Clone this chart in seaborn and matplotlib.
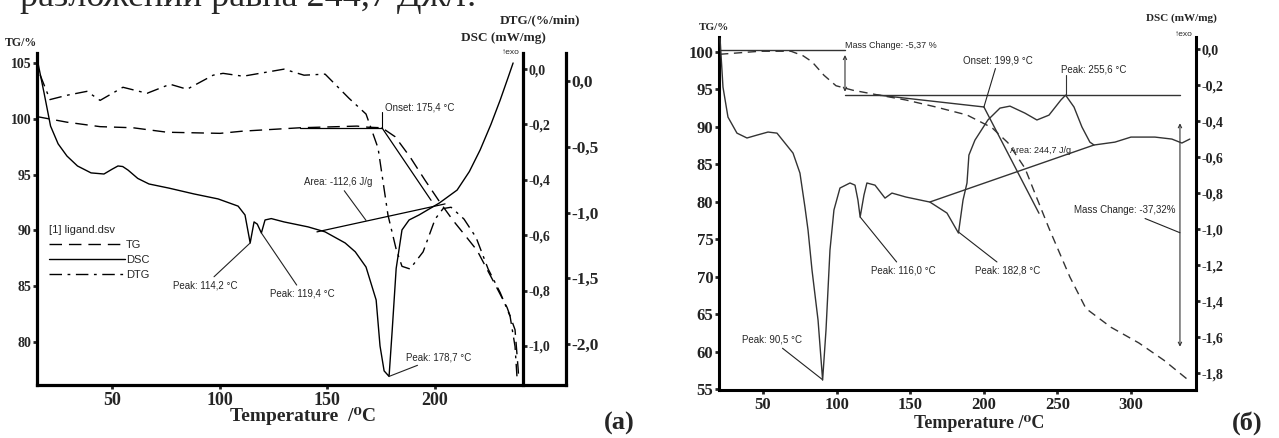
import matplotlib
matplotlib.use("Agg")
import matplotlib.pyplot as plt
import seaborn as sns
from matplotlib.ticker import FixedLocator, FuncFormatter

# ---------------- data ----------------
# (a) ligand: TG (%), DSC (mW/mg), DTG (%/min) against temperature (degC)
a_tg_x = [15.2, 29.1, 44.5, 59.8, 75.6, 100.2, 110.9, 137.4, 163.8, 168.9, 175.4,
          181.5, 188.4, 195.4, 202.4, 208.4, 213.0, 219.6, 227.0, 233.5, 237.2, 238.6, 238.9]
a_tg_y = [100.2, 99.7, 99.3, 99.2, 98.8, 98.7, 98.9, 99.2, 99.35, 99.25, 99.2,
          98.4, 96.6, 94.5, 92.5, 90.9, 89.8, 88.2, 85.5, 83.1, 81.1, 77.7, 76.8]

a_dsc_x = [15.7, 18.5, 21.5, 25.0, 29.1, 34.0, 40.3, 46.3, 50.0, 52.8, 55.0, 57.5, 62.0,
           67.2, 76.5, 88.1, 99.3, 108.6, 111.8, 114.2, 116.0, 117.5, 119.4, 121.1, 124.0,
           129.9, 141.1, 149.0, 158.3, 163.0, 168.0, 172.7, 174.5, 176.4, 178.7, 180.1,
           182.0, 184.7, 188.0, 192.6, 202.0, 210.3, 216.0, 221.0, 226.0, 230.3, 234.0, 236.3]
a_dsc_y = [0.02, -0.087, -0.206, -0.27, -0.314, -0.35, -0.375, -0.379, -0.362, -0.35, -0.352,
           -0.365, -0.395, -0.415, -0.43, -0.451, -0.469, -0.495, -0.527, -0.628, -0.552,
           -0.56, -0.592, -0.545, -0.54, -0.552, -0.57, -0.588, -0.628, -0.66, -0.715,
           -0.834, -1.0, -1.09, -1.11, -0.95, -0.72, -0.581, -0.545, -0.527, -0.484, -0.437,
           -0.37, -0.292, -0.2, -0.112, -0.03, 0.022]

a_dtg_x = [16.6, 21.2, 29.1, 38.4, 44.5, 55.1, 66.3, 77.0, 84.9, 97.0, 101.6, 110.9,
           129.9, 139.2, 149.0, 160.1, 168.0, 173.6, 178.2, 182.0, 184.7, 188.4, 194.5,
           200.1, 203.8, 207.5, 213.5, 219.1, 224.7, 230.3, 234.9, 237.2, 238.1]
a_dtg_y = [0.05, -0.14, -0.107, -0.077, -0.146, -0.046, -0.092, -0.023, -0.061, 0.046,
           0.06, 0.038, 0.092, 0.046, 0.054, -0.13, -0.25, -0.51, -1.02, -1.28, -1.41,
           -1.43, -1.30, -1.05, -0.97, -0.96, -1.05, -1.19, -1.43, -1.61, -1.79, -2.02, -2.25]

# (a) evaluation lines (TG axis and DSC axis)
a_onset_base_x = [137.4, 175.4]
a_onset_base_y = [99.2, 99.2]
a_onset_tan_x = [175.4, 198.2]
a_onset_tan_y = [99.2, 92.7]
a_area_base_x = [145.2, 204.7]
a_area_base_y = [-0.588, -0.487]
a_peaks = [114.2, 119.4, 178.7]
a_peak_dsc = [-0.628, -0.592, -1.11]

# (b) complex: TG (%), DSC (mW/mg)
b_tg_x = [20.8, 34.4, 47.9, 69.0, 77.2, 83.3, 91.4, 99.6, 111.1, 127.4, 147.1, 166.8,
          188.6, 205.6, 216.4, 228.0, 236.1, 244.3, 258.5, 269.4, 286.4, 305.4, 322.4, 338.7]
b_tg_y = [99.7, 99.9, 100.1, 100.1, 99.5, 98.7, 96.9, 95.5, 94.9, 94.3, 93.6, 92.7,
          91.6, 89.9, 87.9, 84.5, 80.5, 76.5, 70.0, 65.8, 63.3, 61.2, 58.9, 56.3]

b_dsc_x = [20.8, 22.8, 26.2, 32.3, 39.1, 45.9, 53.4, 59.5, 64.9, 70.4, 75.1, 78.5, 80.6,
           83.3, 87.4, 90.5, 92.8, 95.5, 98.2, 102.3, 109.1, 112.5, 114.5, 116.0, 118.6,
           120.6, 126.1, 132.9, 137.6, 147.1, 163.4, 175.0, 182.8, 185.9, 188.6, 189.9,
           194.0, 202.8, 211.0, 217.8, 228.0, 236.1, 244.3, 252.4, 255.6, 261.3, 266.7,
           272.1, 274.9, 289.1, 300.0, 316.3, 327.8, 334.6, 340.0]
b_dsc_y = [0.06, -0.211, -0.378, -0.467, -0.494, -0.478, -0.461, -0.467, -0.522, -0.578,
           -0.689, -0.878, -1.006, -1.228, -1.506, -1.839, -1.561, -1.117, -0.894, -0.772,
           -0.744, -0.756, -0.839, -0.933, -0.811, -0.744, -0.756, -0.828, -0.8, -0.822,
           -0.85, -0.911, -1.022, -0.839, -0.744, -0.589, -0.506, -0.394, -0.328, -0.317,
           -0.356, -0.394, -0.367, -0.283, -0.256, -0.322, -0.433, -0.517, -0.533, -0.517,
           -0.489, -0.489, -0.5, -0.522, -0.5]

# (b) evaluation lines (TG axis)
b_ms1_x = [20.8, 105.7]
b_ms1_y = [100.2, 100.2]
b_ms_base_x = [105.7, 333.3]
b_ms_base_y = [94.27, 94.27]
b_onset_base_x = [126.1, 200.1]
b_onset_base_y = [94.3, 92.67]
b_onset_tan_x = [200.1, 237.5]
b_onset_tan_y = [92.67, 78.5]
b_area_base_x = [163.4, 274.9]
b_area_base_y = [80.0, 87.6]
b_peaks = [90.5, 116.0, 182.8]
b_peak_tg = [56.3, 78.0, 76.0]

# ---------------- figure ----------------
sns.set_style("ticks")
SERIF = ['Liberation Serif', 'DejaVu Serif']
NARROW = ['Liberation Sans Narrow', 'Liberation Sans', 'DejaVu Sans']
plt.rcParams['font.family'] = SERIF

W, H = 1279, 438
fig = plt.figure(figsize=(W / 100, H / 100), dpi=100)


def ftext(px, py, s, **kw):
    return fig.text(px / W, 1 - py / H, s, **kw)


def comma(v, pos):
    if abs(v) < 1e-9:
        return '0,0'
    return f"{v:.1f}".replace('.', ',')


def style_spines(ax, visible, lw=2.3):
    for side, sp in ax.spines.items():
        sp.set_visible(side in visible)
        sp.set_linewidth(lw)
        sp.set_color('black')


def note(ax, s, xy, xytext, **kw):
    ax.annotate(s, xy=xy, xytext=xytext, fontsize=7, family=NARROW, va='center',
                arrowprops=dict(arrowstyle='-', lw=0.8, color='#222222',
                                shrinkA=0, shrinkB=0), **kw)


# ===== panel (a) =====
ax_a = fig.add_axes([37 / W, 1 - 385 / H, 486 / W, 332 / H])
ax_a_dsc = ax_a.twinx()
ax_a_dtg = ax_a.twinx()

sns.lineplot(x=a_tg_x, y=a_tg_y, ax=ax_a, color='black', lw=1.0, sort=False, estimator=None)
tg_line = ax_a.lines[-1]
tg_line.set_dashes((9, 5))
sns.lineplot(x=a_dsc_x, y=a_dsc_y, ax=ax_a_dsc, color='black', lw=1.0, sort=False, estimator=None)
dsc_line = ax_a_dsc.lines[-1]
sns.lineplot(x=a_dtg_x, y=a_dtg_y, ax=ax_a_dtg, color='black', lw=1.0, sort=False, estimator=None)
dtg_line = ax_a_dtg.lines[-1]
dtg_line.set_dashes((9, 4, 2, 4))

ax_a.set_xlim(15.2, 240.9)
ax_a.set_ylim(76.15, 105.9)
ax_a_dsc.set_ylim(-1.141, 0.058)
ax_a_dtg.set_ylim(-2.314, 0.215)

# evaluation lines
ax_a.plot(a_onset_base_x, a_onset_base_y, color='black', lw=0.9)
ax_a.plot(a_onset_tan_x, a_onset_tan_y, color='black', lw=0.9)
ax_a_dsc.plot(a_area_base_x, a_area_base_y, color='black', lw=0.9)
ax_a.plot([a_onset_base_x[1]] * 2, [a_onset_base_y[1], 100.6], color='black', lw=0.8)
ax_a.text(177, 101.05, 'Onset: 175,4 °C', fontsize=7, family=NARROW, va='center')
note(ax_a, 'Area: -112,6 J/g', xy=(168.0, 90.9), xytext=(139.2, 94.3))
note(ax_a_dsc, f'Peak: {a_peaks[0]:.1f} °C'.replace('.', ','), xy=(a_peaks[0], a_peak_dsc[0]),
     xytext=(93.3, -0.78), ha='center')
note(ax_a_dsc, f'Peak: {a_peaks[1]:.1f} °C'.replace('.', ','), xy=(a_peaks[1], a_peak_dsc[1]),
     xytext=(123.4, -0.81), ha='left')
note(ax_a_dsc, f'Peak: {a_peaks[2]:.1f} °C'.replace('.', ','), xy=(a_peaks[2], a_peak_dsc[2]),
     xytext=(186.6, -1.04), ha='left')

# spines and ticks
style_spines(ax_a, ['left', 'bottom'])
style_spines(ax_a_dsc, ['right'])
style_spines(ax_a_dtg, ['right'])
ax_a_dtg.spines['right'].set_position(('outward', 31))
ax_a.spines['bottom'].set_bounds(15.2, 260.9)

ax_a.xaxis.set_major_locator(FixedLocator([50, 100, 150, 200]))
ax_a.yaxis.set_major_locator(FixedLocator([80, 85, 90, 95, 100, 105]))
ax_a.tick_params(axis='x', length=3, width=2, pad=2, labelsize=13)
ax_a.tick_params(axis='y', length=3, width=2, pad=1, labelsize=10)
for lab in ax_a.get_xticklabels() + ax_a.get_yticklabels():
    lab.set_fontweight('bold')

ax_a_dsc.yaxis.set_major_locator(FixedLocator([0, -0.2, -0.4, -0.6, -0.8, -1.0]))
ax_a_dsc.yaxis.set_major_formatter(FuncFormatter(comma))
ax_a_dsc.tick_params(axis='y', length=3, width=2, pad=1, labelsize=10)
ax_a_dtg.yaxis.set_major_locator(FixedLocator([0, -0.5, -1.0, -1.5, -2.0]))
ax_a_dtg.yaxis.set_major_formatter(FuncFormatter(comma))
ax_a_dtg.tick_params(axis='y', length=3, width=2, pad=1, labelsize=12.5)
for a in (ax_a_dsc, ax_a_dtg):
    for lab in a.get_yticklabels():
        lab.set_fontweight('bold')

ax_a.legend(handles=[tg_line, dsc_line, dtg_line], labels=['TG', 'DSC', 'DTG'],
            title='[1] ligand.dsv', loc='upper left',
            bbox_to_anchor=(12 / 486, 160 / 332), frameon=False, alignment='left',
            handlelength=6.8, handletextpad=0.1, labelspacing=0.45, borderaxespad=0,
            borderpad=0, prop={'family': NARROW, 'size': 8},
            title_fontproperties={'family': NARROW, 'size': 8})

ftext(5, 43, 'TG/%', fontsize=8.5, fontweight='bold', va='center')
ftext(540, 20, 'DTG/(%/min)', fontsize=9.5, fontweight='bold', ha='center', va='center')
ftext(503, 38, 'DSC (mW/mg)', fontsize=9.5, fontweight='bold', ha='center', va='center')
ftext(511, 52, '↑exo', fontsize=6, family=NARROW, ha='center', va='center')
ftext(303, 416, 'Temperature  /⁰C', fontsize=14, fontweight='bold', ha='center', va='center')
ftext(604, 423, '(а)', fontsize=19, fontweight='bold', va='center')

# ===== panel (b) =====
ax_b = fig.add_axes([719 / W, 1 - 390 / H, 477 / W, 353 / H])
ax_b_dsc = ax_b.twinx()

sns.lineplot(x=b_tg_x, y=b_tg_y, ax=ax_b, color='#333333', lw=1.0, sort=False, estimator=None)
ax_b.lines[-1].set_dashes((6, 4))
sns.lineplot(x=b_dsc_x, y=b_dsc_y, ax=ax_b_dsc, color='#333333', lw=1.0, sort=False, estimator=None)

ax_b.set_xlim(20.1, 344.2)
ax_b.set_ylim(54.93, 102.0)
ax_b_dsc.set_ylim(-1.894, 0.067)

for lx, ly in [(b_ms1_x, b_ms1_y), (b_ms_base_x, b_ms_base_y), (b_onset_base_x, b_onset_base_y),
               (b_onset_tan_x, b_onset_tan_y), (b_area_base_x, b_area_base_y)]:
    ax_b.plot(lx, ly, color='#333333', lw=1.0)

ax_b.annotate('', xy=(105.7, 94.7), xytext=(105.7, 99.6),
              arrowprops=dict(arrowstyle='<->', lw=0.8, color='#333333', shrinkA=0, shrinkB=0,
                              mutation_scale=6))
ax_b.annotate('', xy=(333.3, 60.7), xytext=(333.3, 90.5),
              arrowprops=dict(arrowstyle='<->', lw=0.8, color='#333333', shrinkA=0, shrinkB=0,
                              mutation_scale=6))
ax_b.text(105.5, 100.9, 'Mass Change: -5,37 %', fontsize=6.5, family=NARROW, va='center')
note(ax_b, 'Onset: 199,9 °C', xy=(200.1, 92.67), xytext=(185.9, 98.9))
ax_b.plot([255.6, 255.6], [96.9, 94.3], color='#333333', lw=0.8)
ax_b.text(252.4, 97.6, 'Peak: 255,6 °C', fontsize=7, family=NARROW, va='center')
ax_b.text(217.8, 86.9, 'Area: 244,7 J/g', fontsize=6.5, family=NARROW, va='center')
note(ax_b, 'Mass Change: -37,32%', xy=(333.3, 75.9), xytext=(261.3, 78.9))
note(ax_b, f'Peak: {b_peaks[0]:.1f} °C'.replace('.', ','), xy=(b_peaks[0], b_peak_tg[0]),
     xytext=(35.7, 61.6))
note(ax_b, f'Peak: {b_peaks[1]:.1f} °C'.replace('.', ','), xy=(b_peaks[1], b_peak_tg[1]),
     xytext=(123.4, 70.9))
note(ax_b, f'Peak: {b_peaks[2]:.1f} °C'.replace('.', ','), xy=(b_peaks[2], b_peak_tg[2]),
     xytext=(194.0, 70.9))

style_spines(ax_b, ['left', 'bottom'], lw=2.2)
style_spines(ax_b_dsc, ['right'], lw=2.2)
ax_b.xaxis.set_major_locator(FixedLocator([50, 100, 150, 200, 250, 300]))
ax_b.yaxis.set_major_locator(FixedLocator(list(range(55, 101, 5))))
ax_b.tick_params(axis='x', length=3, width=2, pad=2, labelsize=12)
ax_b.tick_params(axis='y', length=3, width=2, pad=1, labelsize=12)
ax_b_dsc.yaxis.set_major_locator(FixedLocator([0, -0.2, -0.4, -0.6, -0.8, -1.0, -1.2, -1.4, -1.6, -1.8]))
ax_b_dsc.yaxis.set_major_formatter(FuncFormatter(comma))
ax_b_dsc.tick_params(axis='y', length=3, width=2, pad=1, labelsize=10)
for lab in ax_b.get_xticklabels() + ax_b.get_yticklabels() + ax_b_dsc.get_yticklabels():
    lab.set_fontweight('bold')
    lab.set_color('#222222')

ftext(714, 27, 'TG/%', fontsize=8, fontweight='bold', ha='center', va='center')
ftext(1181, 18, 'DSC (mW/mg)', fontsize=8, fontweight='bold', ha='center', va='center')
ftext(1184, 35, '↑exo', fontsize=6, family=NARROW, ha='center', va='center')
ftext(979, 423, 'Temperature /⁰C', fontsize=13, fontweight='bold', ha='center', va='center')
ftext(1232, 423, '(б)', fontsize=19, fontweight='bold', va='center')

# cut-off line of body text above the figure
ftext(20, 6, 'разложении равна 244,7 Дж/г.', fontsize=26, va='baseline')

fig.savefig('out.png', dpi=100)
